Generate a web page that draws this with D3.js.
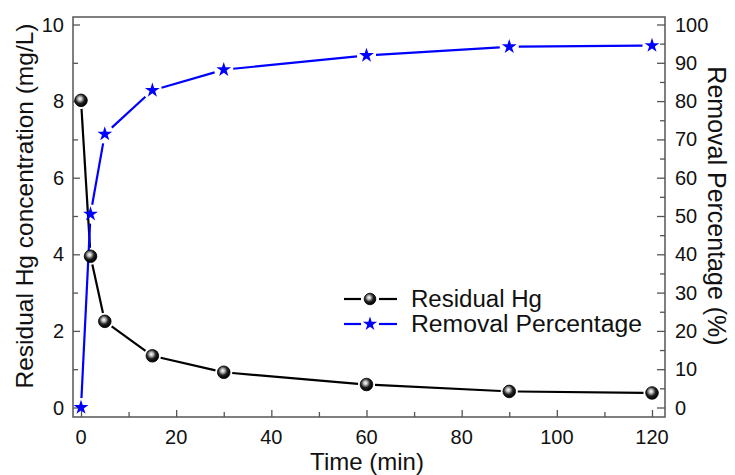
<!DOCTYPE html>
<html><head><meta charset="utf-8">
<script src="https://cdn.jsdelivr.net/npm/d3@7"></script>
<style>body{margin:0;background:#fff}svg{display:block}text{font-family:Arial,"Liberation Sans",sans-serif;fill:#111}</style>
</head><body><svg id="c" width="735" height="475"></svg>
<script>
const time = [0, 2, 5, 15, 30, 60, 90, 120];
const residualHg = [8.02, 3.95, 2.25, 1.35, 0.92, 0.6, 0.42, 0.38];
const removalPct = [0, 50.5, 71.4, 82.8, 88.2, 91.9, 94.2, 94.5];
const xTicks = [0, 20, 40, 60, 80, 100, 120];
const yLeftTicks = [0, 2, 4, 6, 8, 10];
const yRightTicks = [0, 10, 20, 30, 40, 50, 60, 70, 80, 90, 100];
const legendLabels = ["Residual Hg", "Removal Percentage"];

const svg = d3.select("#c");
const box = {l: 73, r: 665, t: 17, b: 417};
const x = d3.scaleLinear().domain([0, 120]).range([81, 652]);
const yL = d3.scaleLinear().domain([0, 10]).range([407.5, 24.5]);
const yR = d3.scaleLinear().domain([0, 100]).range([407.5, 24.5]);

const defs = svg.append("defs");
const g = defs.append("radialGradient").attr("id","ball").attr("cx","0.42").attr("cy","0.38").attr("r","0.6");
g.append("stop").attr("offset","0").attr("stop-color","#ffffff");
g.append("stop").attr("offset","0.25").attr("stop-color","#bdbdbd");
g.append("stop").attr("offset","0.6").attr("stop-color","#222");
g.append("stop").attr("offset","1").attr("stop-color","#000");

const axisCol = "#555";
const bottom = svg.append("g").attr("transform",`translate(0,${box.b})`);
bottom.call(d3.axisBottom(x).tickValues(d3.range(0,121,10)).tickSize(-5).tickFormat(""));
bottom.selectAll(".tick line").attr("stroke",axisCol).attr("stroke-width",1.3);
bottom.selectAll(".tick").filter(d=>d%20===0).select("line").attr("y2",-7);
bottom.select(".domain").remove();
xTicks.forEach(v=>bottom.append("text").attr("x",x(v)).attr("y",27).attr("text-anchor","middle").attr("font-size",20).text(v));

const left = svg.append("g").attr("transform",`translate(${box.l},0)`);
left.call(d3.axisLeft(yL).tickValues(d3.range(0,11,1)).tickSize(-5).tickFormat(""));
left.selectAll(".tick line").attr("stroke",axisCol).attr("stroke-width",1.3);
left.selectAll(".tick").filter(d=>d%2===0).select("line").attr("x2",7);
left.select(".domain").remove();
yLeftTicks.forEach(v=>left.append("text").attr("x",-9).attr("y",yL(v)+7).attr("text-anchor","end").attr("font-size",20).text(v));

const right = svg.append("g").attr("transform",`translate(${box.r},0)`);
right.call(d3.axisRight(yR).tickValues(d3.range(0,101,5)).tickSize(-5).tickFormat(""));
right.selectAll(".tick line").attr("stroke",axisCol).attr("stroke-width",1.3);
right.selectAll(".tick").filter(d=>d%10===0).select("line").attr("x2",-8);
right.select(".domain").remove();
yRightTicks.forEach(v=>right.append("text").attr("x",10).attr("y",yR(v)+7).attr("text-anchor","start").attr("font-size",20).text(v));

svg.append("rect").attr("x",box.l).attr("y",box.t).attr("width",box.r-box.l).attr("height",box.b-box.t)
  .attr("fill","none").attr("stroke",axisCol).attr("stroke-width",1.5);

svg.append("text").attr("x",(box.l+box.r)/2 - 2).attr("y",470).attr("text-anchor","middle").attr("font-size",24).text("Time (min)");
svg.append("text").attr("transform","translate(33,206) rotate(-90)").attr("text-anchor","middle").attr("font-size",24.5).text("Residual Hg concentration (mg/L)");
svg.append("text").attr("transform","translate(708,206) rotate(90)").attr("text-anchor","middle").attr("font-size",25).text("Removal Percentage (%)");

function gapLine(pts, color, gap){
  for(let i=0;i<pts.length-1;i++){
    const [x1,y1]=pts[i],[x2,y2]=pts[i+1];
    const dx=x2-x1, dy=y2-y1, L=Math.hypot(dx,dy);
    if(L<=2*gap) continue;
    const ux=dx/L, uy=dy/L;
    svg.append("line").attr("x1",x1+ux*gap).attr("y1",y1+uy*gap).attr("x2",x2-ux*gap).attr("y2",y2-uy*gap)
      .attr("stroke",color).attr("stroke-width",2.2);
  }
}
const ptsHg = time.map((t,i)=>[x(t), yL(residualHg[i])]);
const ptsRm = time.map((t,i)=>[x(t), yR(removalPct[i])]);
gapLine(ptsHg, "#000", 8.5);
gapLine(ptsRm, "#0000ff", 9.5);

const star = d3.symbol().type(d3.symbolStar).size(68);
svg.selectAll(".ball").data(ptsHg).enter().append("circle")
  .attr("cx",d=>d[0]).attr("cy",d=>d[1]).attr("r",6.3).attr("fill","url(#ball)").attr("stroke","#000").attr("stroke-width",0.8);
svg.selectAll(".star").data(ptsRm).enter().append("path")
  .attr("d",star).attr("transform",d=>`translate(${d[0]},${d[1]})`).attr("fill","#0000ff");

const lg = svg.append("g");
const ly = [299, 324];
lg.append("line").attr("x1",344).attr("x2",361).attr("y1",ly[0]).attr("y2",ly[0]).attr("stroke","#000").attr("stroke-width",2.2);
lg.append("line").attr("x1",379).attr("x2",397).attr("y1",ly[0]).attr("y2",ly[0]).attr("stroke","#000").attr("stroke-width",2.2);
lg.append("circle").attr("cx",370).attr("cy",ly[0]).attr("r",5.8).attr("fill","url(#ball)").attr("stroke","#000").attr("stroke-width",0.8);
lg.append("line").attr("x1",344).attr("x2",361).attr("y1",ly[1]).attr("y2",ly[1]).attr("stroke","#0000ff").attr("stroke-width",2.2);
lg.append("line").attr("x1",379).attr("x2",397).attr("y1",ly[1]).attr("y2",ly[1]).attr("stroke","#0000ff").attr("stroke-width",2.2);
lg.append("path").attr("d",d3.symbol().type(d3.symbolStar).size(62)).attr("transform",`translate(370,${ly[1]})`).attr("fill","#0000ff");
const legW = [131, 231];
legendLabels.forEach((t,i)=>lg.append("text").attr("x",411).attr("y",ly[i]+8).attr("font-size",23)
  .attr("textLength",legW[i]).attr("lengthAdjust","spacingAndGlyphs").text(t));
</script></body></html>
